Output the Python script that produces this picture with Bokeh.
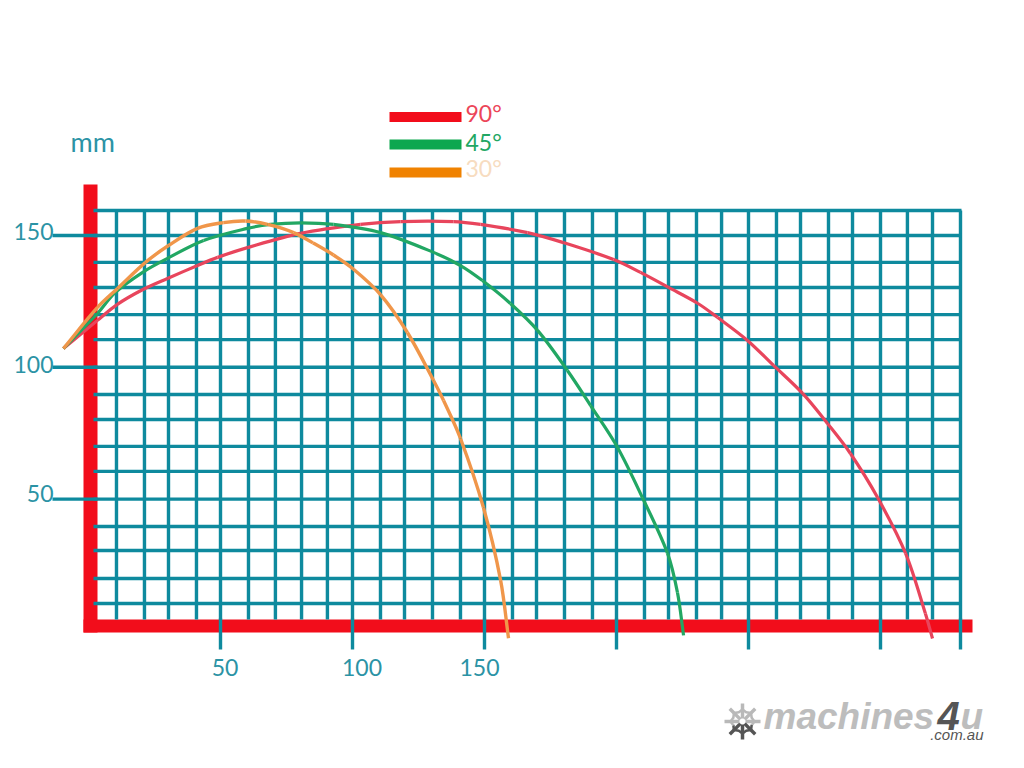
import math
from bokeh.plotting import figure
from bokeh.embed import file_html
from bokeh.resources import INLINE
from bokeh.core.properties import value

# ---- chart data (mm)
grid_x = [10.6, 21.2, 30.3, 40.9, 50, 60.6, 70.8, 80.7, 90.5, 100, 110.6, 119.7, 130.3, 140.9, 150, 160.6, 169.7,
          180.3, 190.9, 200, 210.6, 219.7, 230.3, 239.8, 250, 260.6, 269.7, 280.3, 289.4, 300, 310.2, 319.7, 330.3]
grid_y = [159.5, 150, 139.8, 130.3, 120, 110.5, 100, 89.7, 80.2, 70, 60.5, 50, 39.6, 30.5, 19.9, 10.4]
tick_x = [50, 100, 150, 200, 250, 300, 330.3]
tick_y = [150, 100, 50]
label_x = ["50", "100", "150"]
label_y = ["150", "100", "50"]
series = ["90°", "45°", "30°"]

red_x = [-9.5, 3.4, 10.8, 20.8, 29.9, 41.3, 48.9, 60.2, 80.3, 103.0, 118.2, 138.3, 148.5, 166.3, 179.9, 198.9, 209.1,
         219.7, 230.7, 238.3, 249.6, 259.5, 270.5, 279.9, 288.6, 298.9, 309.5, 317.0, 319.7]
red_y = [107.1, 117.8, 123.8, 129.6, 133.7, 138.6, 141.7, 145.4, 150.8, 154.2, 155.3, 155.3, 154.2, 151.1, 147.3, 140.9, 136.0,
         130.3, 124.3, 118.9, 110.2, 100.7, 90.1, 78.7, 67.3, 50.6, 29.4, 6.6, -2.9]
green_x = [-9.5, 3.4, 10.2, 20.8, 29.9, 43.6, 60.2, 68.9, 80.3, 92.8, 110.6, 130.7, 140.9, 149.2, 159.8, 170.1,
           181.4, 190.2, 200.4, 209.8, 219.3, 223.1, 225.4]
green_y = [107.1, 120.4, 128.4, 136.2, 141.3, 148.1, 152.7, 154.2, 154.8, 154.2, 151.1, 143.6, 138.6, 132.9, 124.2, 114.0,
           98.8, 85.5, 69.6, 50.6, 29.5, 14.5, -1.7]
orange_x = [-9.5, 3.4, 11.0, 21.6, 30.3, 41.3, 51.1, 59.5, 67.8, 77.7, 85.0, 92.8, 100.4, 110.6, 120.8, 130.7, 134.5,
            140.9, 149.6, 156.1, 159.1]
orange_y = [107.1, 122.7, 129.9, 139.8, 146.2, 152.7, 154.9, 155.5, 154.2, 151.1, 147.2, 142.6, 137.2, 127.6, 113.2, 95.0, 87.4,
            73.0, 46.8, 19.2, -2.8]

TEAL = "#0e8a9e"
RED = "#f20d1b"
FONT = value("Lato")

# page pixel -> data, for labels and decoration only
PX = 2.64
PY = 2.636
def X(px): return (px - 88) / PX
def Y(py): return (630.4 - py) / PY

p = figure(width=1008, height=752, output_backend="svg", toolbar_location=None,
           x_range=(X(0), X(1008)), y_range=(Y(752), Y(0)),
           x_axis_location=None, y_axis_location=None, min_border=0,
           background_fill_color="white", border_fill_color="white", outline_line_color=None)
p.grid.visible = False

# red axis bars
p.segment(x0=[X(90)], x1=[X(90)], y0=[Y(184)], y1=[Y(632)], line_color=RED, line_width=14, line_cap="butt")
p.segment(x0=[X(83)], x1=[X(972)], y0=[Y(625.5)], y1=[Y(625.5)], line_color=RED, line_width=13, line_cap="butt")

# grid
p.segment(x0=grid_x, x1=grid_x, y0=[Y(210)] * len(grid_x), y1=[Y(619)] * len(grid_x), line_color=TEAL, line_width=3.4)
p.segment(x0=[X(93)] * len(grid_y), x1=[X(961)] * len(grid_y), y0=grid_y, y1=grid_y, line_color=TEAL, line_width=3.4)
# ticks
p.segment(x0=tick_x, x1=tick_x, y0=[Y(618)] * len(tick_x), y1=[Y(649)] * len(tick_x), line_color=TEAL, line_width=3.4)
p.segment(x0=[X(52)] * len(tick_y), x1=[X(97)] * len(tick_y), y0=tick_y, y1=tick_y, line_color=TEAL, line_width=3.4)

# curves: smooth strokes through the read points (chord-length tangents)
def smooth(xs, ys, color, width):
    n = len(xs)
    chord = [math.hypot(xs[i + 1] - xs[i], ys[i + 1] - ys[i]) for i in range(n - 1)]
    tx, ty = [], []
    for i in range(n):
        a, b = max(i - 1, 0), min(i + 1, n - 1)
        d = sum(chord[a:b])
        tx.append((xs[b] - xs[a]) / d)
        ty.append((ys[b] - ys[a]) / d)
    cx0 = [xs[i] + tx[i] * chord[i] / 3 for i in range(n - 1)]
    cy0 = [ys[i] + ty[i] * chord[i] / 3 for i in range(n - 1)]
    cx1 = [xs[i + 1] - tx[i + 1] * chord[i] / 3 for i in range(n - 1)]
    cy1 = [ys[i + 1] - ty[i + 1] * chord[i] / 3 for i in range(n - 1)]
    p.bezier(x0=xs[:-1], y0=ys[:-1], x1=xs[1:], y1=ys[1:], cx0=cx0, cy0=cy0, cx1=cx1, cy1=cy1,
             line_color=color, line_width=width)

smooth(red_x, red_y, "#e8455c", 3.2)
smooth(green_x, green_y, "#22a763", 3.2)
smooth(orange_x, orange_y, "#f0964a", 3.4)

# axis labels
p.text(x=[X(224.5), X(361.5), X(479)], y=[Y(667)] * 3, text=label_x, text_color="#2b93a5", text_font=FONT,
       text_font_size="23px", text_align="center", text_baseline="middle")
p.text(x=[X(53)] * 3, y=[Y(231), Y(364), Y(493)], text=label_y, text_color="#2b93a5", text_font=FONT,
       text_font_size="23px", text_align="right", text_baseline="middle")
p.text(x=[X(70)], y=[Y(141)], text=["mm"], text_color="#2b93a5", text_font=FONT,
       text_font_size="27px", text_align="left", text_baseline="middle")

# legend
leg_y = [Y(116.5), Y(144), Y(172)]
p.segment(x0=[X(389)] * 3, x1=[X(461)] * 3, y0=leg_y, y1=leg_y, line_width=10, line_cap="butt",
          line_color=[RED, "#0ca74f", "#f08200"])
p.text(x=[X(465)] * 3, y=[Y(112), Y(141), Y(167)], text=series, text_font=FONT, text_font_size="23px",
       text_align="left", text_baseline="middle", text_color=["#ec4558", "#22a763", "#f7dcc0"])

# logo
cx, cy, r = 742, 721, 18
for k in range(8):
    a = math.radians(45 * k)
    c = "#555555" if k in (3, 4, 5) else "#b9b9b9"
    dx, dy = math.sin(a), -math.cos(a)
    p.segment(x0=[X(cx + 3 * dx)], x1=[X(cx + r * dx)], y0=[Y(cy + 3 * dy)], y1=[Y(cy + r * dy)],
              line_color=c, line_width=3.5)
    ex, ey = cx + 12 * dx, cy + 12 * dy
    p.segment(x0=[X(ex - 4 * dy - 3 * dx), X(ex + 4 * dy - 3 * dx)], x1=[X(ex), X(ex)],
              y0=[Y(ey + 4 * dx - 3 * dy), Y(ey - 4 * dx - 3 * dy)], y1=[Y(ey), Y(ey)],
              line_color=c, line_width=2.5)
LOGO = value("Liberation Sans")
p.text(x=[X(763)], y=[Y(716)], text=["machines"], text_font=LOGO, text_font_style="bold italic",
       text_font_size="37px", text_color="#bdbdbd", text_align="left", text_baseline="middle")
p.text(x=[X(937)], y=[Y(715)], text=["4"], text_font=LOGO, text_font_style="bold italic",
       text_font_size="40px", text_color="#555555", text_align="left", text_baseline="middle")
p.text(x=[X(960)], y=[Y(716)], text=["u"], text_font=LOGO, text_font_style="bold italic",
       text_font_size="37px", text_color="#bdbdbd", text_align="left", text_baseline="middle")
p.text(x=[X(983)], y=[Y(734)], text=[".com.au"], text_font=LOGO, text_font_style="italic",
       text_font_size="15px", text_color="#555555", text_align="right", text_baseline="middle")

open("out.html", "w").write(file_html(p, INLINE))
